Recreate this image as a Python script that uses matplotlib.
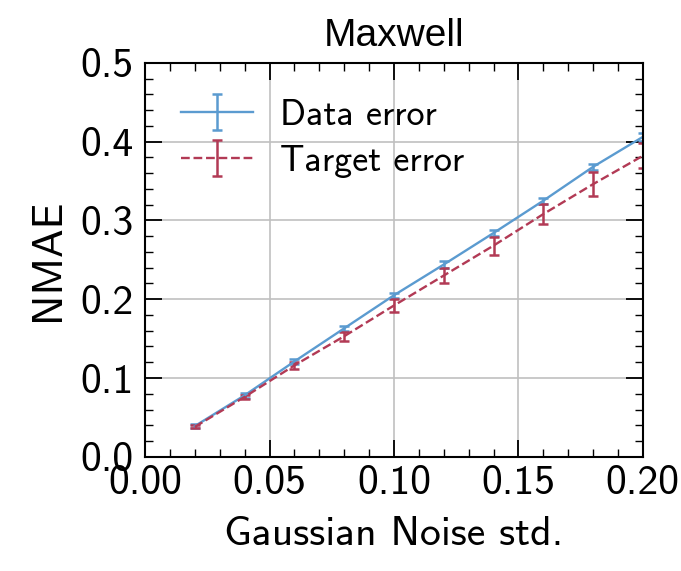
import numpy as np
import matplotlib.pyplot as plt

noise_std = [0.02, 0.04, 0.06, 0.08, 0.10, 0.12, 0.14, 0.16, 0.18, 0.20]
data_err = [0.039, 0.078, 0.121, 0.163, 0.205, 0.244, 0.284, 0.325, 0.368, 0.406]
data_sd = [0.002, 0.003, 0.003, 0.003, 0.003, 0.004, 0.004, 0.004, 0.004, 0.005]
target_err = [0.038, 0.076, 0.116, 0.153, 0.192, 0.230, 0.268, 0.308, 0.346, 0.382]
target_sd = [0.002, 0.003, 0.004, 0.006, 0.008, 0.0095, 0.0115, 0.013, 0.015, 0.016]

plt.rcParams['font.family'] = ['cmss10', 'DejaVu Sans']

fig = plt.figure(figsize=(6.81, 5.71), dpi=100)
ax = fig.add_axes([0.213, 0.2, 0.731, 0.69])

ax.errorbar(noise_std, data_err, yerr=data_sd, color='#5b9bd0', lw=1.7,
            capsize=3.5, elinewidth=1.8, capthick=1.8, label='Data error')
ax.errorbar(noise_std, target_err, yerr=target_sd, color='#b23a55', lw=1.7,
            ls='--', capsize=3.5, elinewidth=1.8, capthick=1.8, label='Target error')

ax.set_xlim(0.0, 0.2)
ax.set_ylim(0.0, 0.5)
ax.set_xticks([0.0, 0.05, 0.10, 0.15, 0.20])
ax.set_xticklabels(['0.00', '0.05', '0.10', '0.15', '0.20'])
ax.set_yticks([0.0, 0.1, 0.2, 0.3, 0.4, 0.5])
ax.set_yticklabels(['0.0', '0.1', '0.2', '0.3', '0.4', '0.5'])
ax.set_xticks(np.arange(0, 0.2001, 0.01), minor=True)
ax.set_yticks(np.arange(0, 0.5001, 0.02), minor=True)
ax.tick_params(which='both', direction='in', top=True, right=True, labelsize=30)
ax.tick_params(axis='x', pad=6)
ax.tick_params(axis='y', pad=8)
ax.tick_params(which='major', length=12, width=1.3)
ax.tick_params(which='minor', length=6, width=1.0)
for s in ax.spines.values():
    s.set_linewidth(1.5)
ax.grid(True, color='#c0c0c0', lw=1.2)

ax.set_xlabel('Gaussian Noise std.', fontsize=30, labelpad=10)
ax.set_ylabel('NMAE', fontsize=31, labelpad=10)
ax.set_title('Maxwell', fontsize=28, pad=12, family='Liberation Sans')
ax.legend(loc='upper left', frameon=False, fontsize=26, handlelength=2.0,
          borderaxespad=0.6, labelspacing=0.35, handletextpad=0.75)

fig.savefig('out.png', dpi=100)
